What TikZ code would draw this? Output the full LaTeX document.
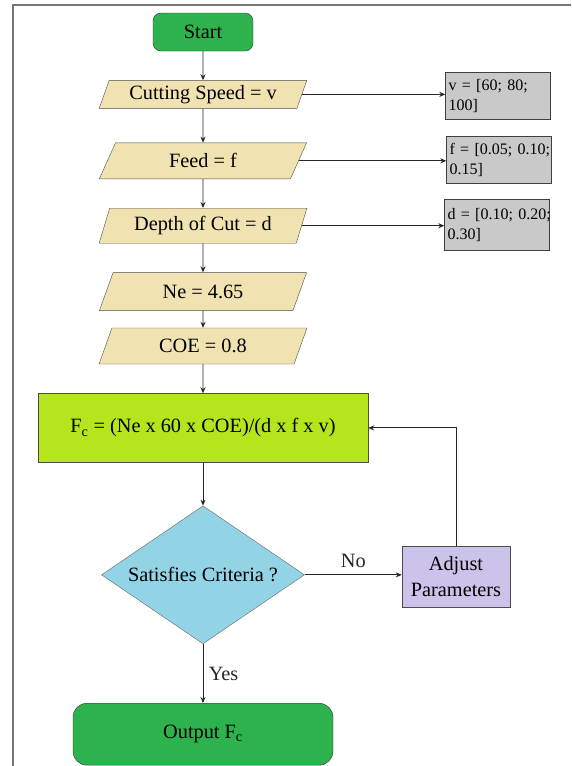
\documentclass[tikz,border=0pt]{standalone}
\usepackage{fontspec}
\setmainfont{Liberation Serif}
\usepackage{xcolor}
\usepackage{tikz}
\usetikzlibrary{shapes.geometric,positioning,arrows.meta}

\definecolor{startgreen}{HTML}{2DB24E}
\definecolor{iowheat}{HTML}{F1E3B1}
\definecolor{calclime}{HTML}{B5E61D}
\definecolor{checkblue}{HTML}{92D3E6}
\definecolor{adjustlav}{HTML}{CCC3EA}
\definecolor{rangegray}{HTML}{C9C9C9}
\definecolor{framegray}{HTML}{777777}

\newcommand{\flowfont}{\fontsize{20.3}{23}\selectfont}

\tikzset{
  startstop/.style={rectangle, rounded corners=8pt, draw=black!80, fill=startgreen,
    minimum width=100pt, minimum height=38pt, font=\flowfont},
  io/.style={trapezium, trapezium left angle=72, trapezium right angle=108,
    trapezium stretches=true, draw=black!70, fill=iowheat, minimum width=208pt,
    font=\flowfont},
  calc/.style={rectangle, draw=black!70, fill=calclime, minimum width=330pt,
    minimum height=69pt, font=\flowfont},
  decision/.style={diamond, aspect=1.47, draw=black!60, fill=checkblue, minimum width=203pt,
    minimum height=138pt, inner sep=0pt, font=\flowfont},
  adjustbox/.style={rectangle, draw=black!70, fill=adjustlav, minimum width=108pt,
    minimum height=61pt, inner sep=2pt, align=center, font=\fontsize{20.3}{26}\selectfont},
  rangebox/.style={rectangle, draw=black!75, fill=rangegray, minimum width=105pt,
    minimum height=47pt, text width=99pt, inner xsep=3pt, inner ysep=3pt, align=left,
    font=\fontsize{16}{20}\selectfont},
  link/.style={-{Stealth[length=6pt,width=5pt]}, black!85, line width=0.9pt} % arrow between boxes
}

\begin{document}
\begin{tikzpicture}[x=1pt, y=-1pt, every edge/.style={draw, link}]
  \useasboundingbox (0,0) rectangle (571,766);
  % Frame
  \draw[framegray, line width=1.5pt] (571,5) -- (13,5) -- (13,766);

  % Inputs
  \node[startstop] (start) at (203,32) {Start};
  \node[io, below=29pt of start, minimum height=28pt] (speed) {Cutting Speed = v};
  \node[io, below=34pt of speed, minimum height=36pt] (feed) {Feed = f};
  \node[io, below=29pt of feed, minimum height=35pt] (depth) {Depth of Cut = d};
  \node[io, below=29pt of depth, minimum height=38pt] (ne) {Ne = 4.65};
  \node[io, below=17pt of ne, minimum height=36pt] (coe) {COE = 0.8};

  % Ranges
  \node[rangebox] (vrange) at (498,96) {\mbox{v = [60; 80;}\\100]};
  \node[rangebox] (frange) at (499,160) {\mbox{f = [0.05; 0.10;}\\0.15]};
  \node[rangebox, minimum height=51pt] (drange) at (497,225) {\mbox{d = [0.10; 0.20;}\\0.30]};

  % Calculation and check
  \node[calc, below=29pt of coe] (force) {F\textsubscript{c} = (Ne x 60 x COE)/(d x f x v)};
  \node[decision, below=43pt of force] (check) {Satisfies Criteria ?};
  \node[adjustbox] (adjust) at (456,577) {Adjust\\Parameters};
  \node[startstop, rounded corners=14pt, minimum width=260pt, minimum height=62pt,
    below=59pt of check] (output) {Output F\textsubscript{c}};

  % Connect
  \path (start) edge (speed)
        (speed) edge (feed)
        (feed) edge (depth)
        (depth) edge (ne)
        (ne) edge (coe)
        (coe) edge (force)
        (force) edge (check)
        (speed.east) edge (vrange.west |- speed.east)
        (feed.east) edge (frange.west |- feed.east)
        (depth.east) edge (drange.west |- depth.east)
        (check.east) edge node[above=3pt, font=\flowfont] {No} (adjust.west |- check.east)
        (check) edge node[right=2pt, font=\flowfont] {Yes} (output);
  \draw[link] (adjust.north) |- (force.east);
\end{tikzpicture}
\end{document}
